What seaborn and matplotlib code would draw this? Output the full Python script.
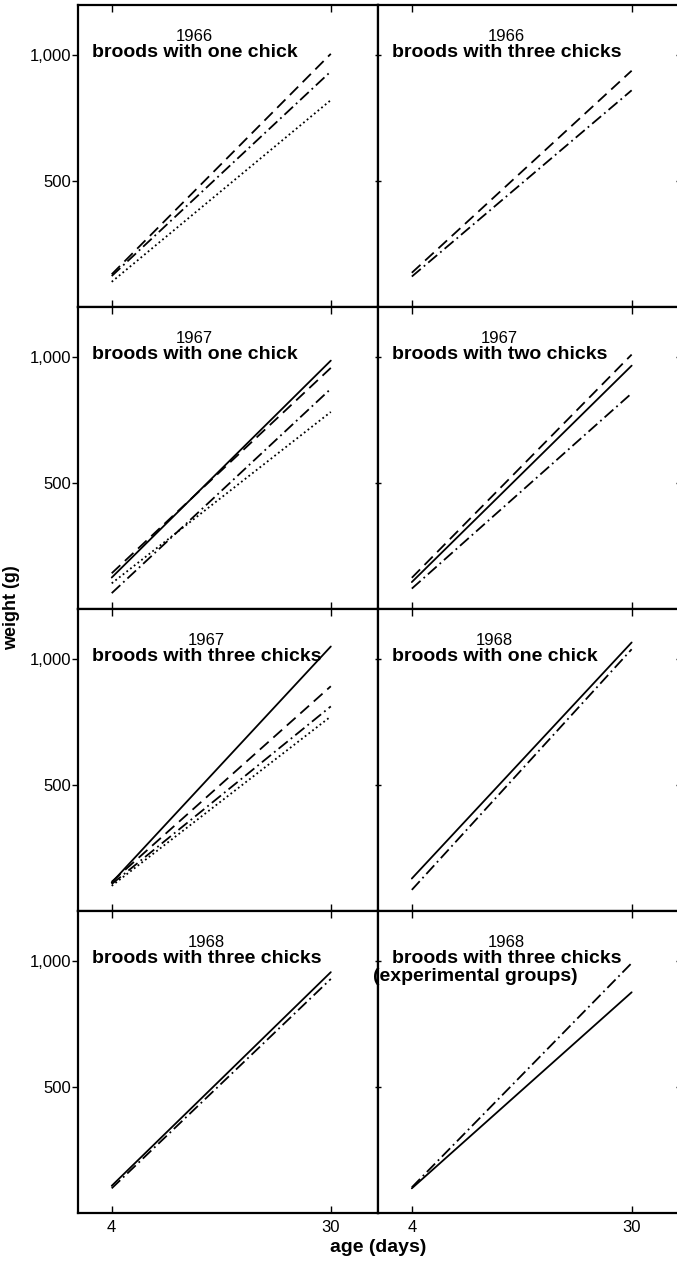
import pandas as pd
import matplotlib
matplotlib.use("Agg")
import matplotlib.pyplot as plt
import matplotlib.transforms as mtransforms
import seaborn as sns

# ages at which the growth lines start and end (days)
ages = [4, 30]

years = ["1966", "1966", "1967", "1967", "1967", "1968", "1968", "1968"]
brood_labels = ["broods with one chick", "broods with three chicks",
                "broods with one chick", "broods with two chicks",
                "broods with three chicks", "broods with one chick",
                "broods with three chicks", "broods with three chicks"]
extra_labels = [None, None, None, None, None, None, None, "(experimental groups)"]

# weight (g) at day 4 and day 30 for each line in each panel
w1966_one = {"dashed": [130, 1006], "dashdot": [123, 936], "dotted": [100, 822]}
w1966_three = {"dashed": [136, 939], "dashdot": [121, 861]}
w1967_one = {"solid": [125, 987], "dashed": [142, 958], "dashdot": [63, 875], "dotted": [102, 783]}
w1967_two = {"dashed": [124, 1011], "solid": [107, 967], "dashdot": [81, 857]}
w1967_three = {"solid": [113, 1051], "dashed": [116, 893], "dashdot": [107, 813], "dotted": [100, 773]}
w1968_one = {"solid": [129, 1067], "dashdot": [84, 1040]}
w1968_three = {"solid": [108, 957], "dashdot": [98, 930]}
w1968_exp = {"dashdot": [102, 993], "solid": [98, 877]}

panels = [w1966_one, w1966_three, w1967_one, w1967_two,
          w1967_three, w1968_one, w1968_three, w1968_exp]

ytick_values = [500, 1000]
ytick_labels = ["500", "1,000"]
xtick_values = [4, 30]
xtick_labels = ["4", "30"]

dash_map = {"solid": "", "dashed": (6.5, 3.5), "dashdot": (6.5, 2.2, 1, 2.2), "dotted": (1, 1.6)}

sns.set_style("ticks")
plt.rcParams['font.family'] = ['Liberation Sans', 'DejaVu Sans']
plt.rcParams.update({"text.color": "black", "axes.edgecolor": "black",
                     "xtick.color": "black", "ytick.color": "black",
                     "axes.labelcolor": "black"})

W, H = 677, 1262
fig = plt.figure(figsize=(W / 100, H / 100), dpi=100)

col_left = [78, 378]
col_width = [300, 301]
row_top = [5, 307, 609, 911]
row_height = 302

for i, series in enumerate(panels):
    r, c = divmod(i, 2)
    ax = fig.add_axes([col_left[c] / W, 1 - (row_top[r] + row_height) / H,
                       col_width[c] / W, row_height / H])
    df = pd.DataFrame([{"age": a, "weight": w, "curve": k}
                       for k, vals in series.items() for a, w in zip(ages, vals)])
    sns.lineplot(data=df, x="age", y="weight", style="curve",
                 dashes={k: dash_map[k] for k in series}, color="black",
                 lw=1.3, legend=False, ax=ax)
    ax.set_xlim(0, 35.6)
    ax.set_ylim(0, 1200)
    ax.set_xlabel("")
    ax.set_ylabel("")
    for s in ax.spines.values():
        s.set_visible(True)
        s.set_linewidth(1.6)
        s.set_color("black")
    ax.set_xticks(xtick_values)
    ax.set_yticks(ytick_values)
    ax.tick_params(axis="x", direction="in", top=True, bottom=True,
                   length=5, width=1, labelsize=12, pad=5,
                   labelbottom=(r == 3))
    if r == 3:
        ax.set_xticklabels(xtick_labels)
    ax.tick_params(axis="y", direction="out" if c == 0 else "inout",
                   left=True, right=True, length=4, width=1,
                   labelsize=12, pad=1, labelleft=(c == 0))
    if c == 0:
        ax.set_yticklabels(ytick_labels)

    trans = mtransforms.blended_transform_factory(ax.transAxes, ax.transData)
    bold = ax.text(0.045, 1010, brood_labels[i], transform=trans,
                   ha="left", va="center", fontsize=14, fontweight="bold")
    ax.annotate(years[i], xy=(0.5, 1.0), xycoords=bold, xytext=(0, 0),
                textcoords="offset points", ha="center", va="bottom", fontsize=12)
    if extra_labels[i]:
        ax.text(-0.017, 938, extra_labels[i], transform=trans,
                ha="left", va="center", fontsize=14, fontweight="bold")

fig.text(12 / W, 1 - 608 / H, "weight (g)", rotation=90, ha="center",
         va="center", fontsize=13, fontweight="bold")
fig.text(378 / W, 1 - 1247 / H, "age (days)", ha="center", va="center",
         fontsize=14, fontweight="bold")

fig.savefig("out.png", dpi=100)
